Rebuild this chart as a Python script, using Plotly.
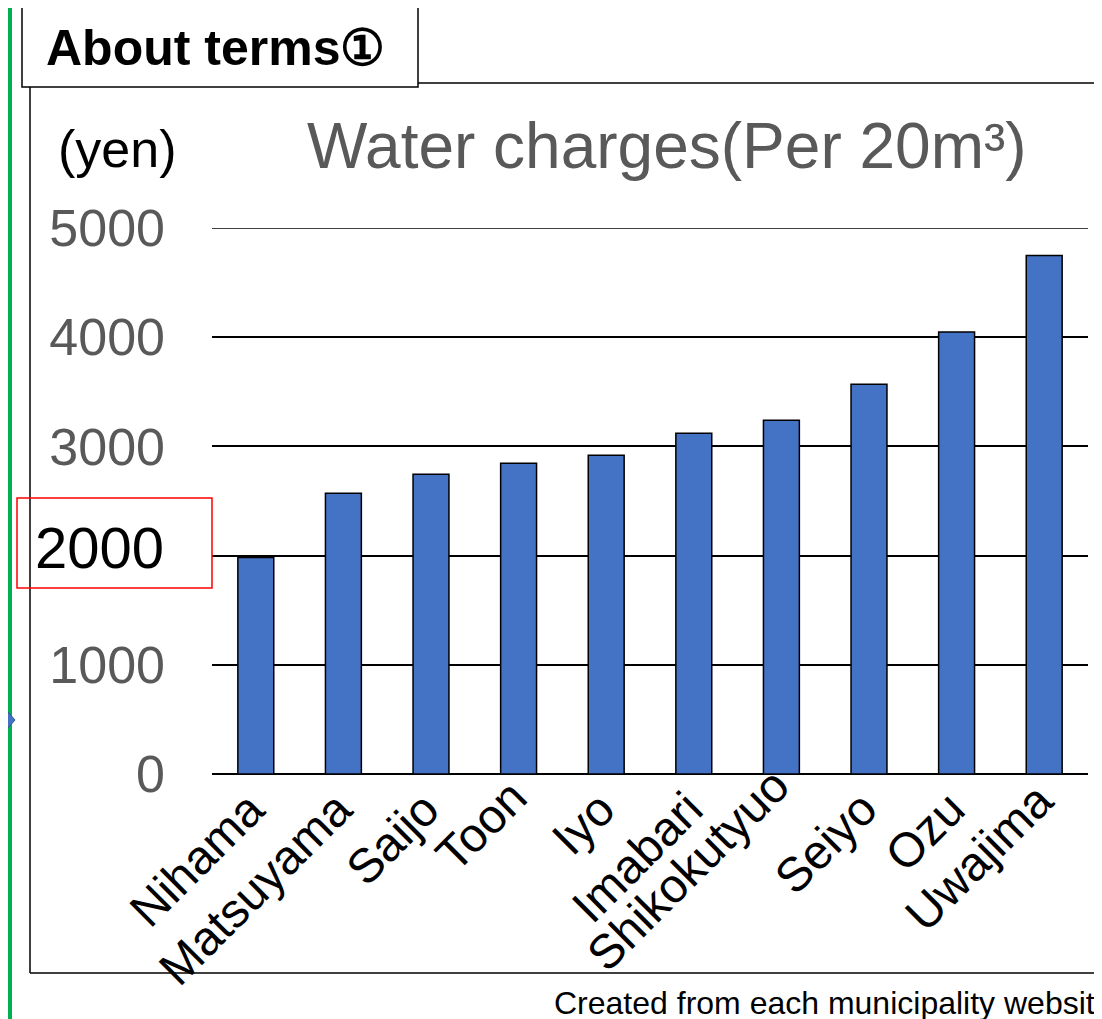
import plotly.graph_objects as go

# data
CITIES = ['Nihama', 'Matsuyama', 'Saijo', 'Toon', 'Iyo', 'Imabari',
          'Shikokutyuo', 'Seiyo', 'Ozu', 'Uwajima']
CHARGES = [1983, 2570, 2745, 2845, 2918, 3120, 3239, 3568, 4047, 4748]
Y_TICKS = [0, 1000, 2000, 3000, 4000, 5000]
Y_TICK_TEXT = ['0', '1000', '', '3000', '4000', '5000']

### the slide lifts a couple of the slanted labels (pixels)
LABEL_LIFT = [0, 0, 0, 12, 0, 0, 24, 0, 0, 8]

W, H = 1102, 1019       # reference picture size
OFF = 8                 # page body margin of the html
PL, PR = 212, 1088      # plot area in reference pixels
PT, PB = 228, 774

FONT = 'Liberation Sans, Arial, sans-serif'
GRAY = '#595959'
BLUE = '#4472C4'


def px(x):
    return (x - PL) / (PR - PL)


def py(y):
    return (PB - y) / (PB - PT)


fig = go.Figure()
fig.add_trace(go.Bar(
    x=CITIES, y=CHARGES,
    marker=dict(color=BLUE, line=dict(color='black', width=1.5)),
))

### frame and decorations
shapes = [
    # top gridline (plotly drops the one sitting on the plot edge)
    dict(type='line', xref='paper', yref='y', x0=0, x1=1,
         y0=Y_TICKS[-1], y1=Y_TICKS[-1], line=dict(color='black', width=1.5),
         layer='below'),
    # outer frame
    dict(type='line', x0=px(30), x1=px(30), y0=py(87), y1=py(973),
         line=dict(color='black', width=1.5)),
    dict(type='line', x0=px(418), x1=px(W + 20), y0=py(83), y1=py(83),
         line=dict(color='black', width=1.5)),
    dict(type='line', x0=px(30), x1=px(W + 20), y0=py(973), y1=py(973),
         line=dict(color='black', width=1.5)),
    # heading box
    dict(type='rect', x0=px(22), x1=px(418), y0=py(5), y1=py(87),
         line=dict(color='black', width=1.5), fillcolor='white'),
    # red box round the 2000 label
    dict(type='rect', x0=px(17), x1=px(212), y0=py(498), y1=py(588),
         line=dict(color='red', width=1.5)),
    # green bar on the left
    dict(type='line', x0=px(10), x1=px(10), y0=py(-20), y1=py(H + 20),
         line=dict(color='#00B050', width=4)),
    # blue diamond marker
    dict(type='path',
         path='M {} {} L {} {} L {} {} L {} {} Z'.format(
             px(-16), py(720), px(0), py(703), px(15), py(720), px(0), py(737)),
         fillcolor=BLUE, line=dict(color='#2F5597', width=1)),
]
for s in shapes:
    s.setdefault('xref', 'paper')
    s.setdefault('yref', 'paper')

annotations = [
    dict(text='<b>About terms①</b>', x=px(44), y=py(48), xanchor='left',
         yanchor='middle', font=dict(size=50, color='black', family=FONT)),
    dict(text='Water charges(Per 20m³)', x=px(667), y=py(146), xanchor='center',
         yanchor='middle', font=dict(size=64, color=GRAY, family=FONT)),
    dict(text='(yen)', x=px(56), y=py(149), xanchor='left', yanchor='middle',
         font=dict(size=52, color='black', family=FONT)),
    dict(text='2000', x=px(166), y=py(547), xanchor='right', yanchor='middle',
         font=dict(size=58, color='black', family=FONT)),
    dict(text='Created from each municipality website', x=px(552), y=py(1003),
         xanchor='left', yanchor='middle',
         font=dict(size=32, color='black', family=FONT)),
]
for a in annotations:
    a.update(xref='paper', yref='paper', showarrow=False)

### slanted category labels, hung off the x axis
for city, lift in zip(CITIES, LABEL_LIFT):
    annotations.append(dict(
        text=city, xref='x', yref='y', x=city, y=0,
        xanchor='right', yanchor='top', textangle=-45,
        xshift=21, yshift=-5 + lift, showarrow=False,
        font=dict(size=48, color='black', family=FONT)))

fig.update_layout(
    width=W - OFF, height=H - OFF,
    margin=dict(l=PL - OFF, r=W - PR, t=PT - OFF, b=H - PB, pad=0),
    paper_bgcolor='white', plot_bgcolor='white',
    showlegend=False,
    bargap=0.59,
    shapes=shapes,
    annotations=annotations,
    font=dict(family=FONT),
)
fig.update_xaxes(range=[-0.5, len(CITIES) - 0.5], showticklabels=False,
                 showgrid=False, showline=False, ticks='')
fig.update_yaxes(
    range=[0, 5000], tickvals=Y_TICKS, ticktext=Y_TICK_TEXT,
    tickfont=dict(size=52, color=GRAY, family=FONT),
    showgrid=True, gridcolor='black', gridwidth=1.5,
    zeroline=True, zerolinecolor='black', zerolinewidth=1.5,
    showline=False, ticks='', ticklabelstandoff=46,
)

fig.write_html("out.html")
